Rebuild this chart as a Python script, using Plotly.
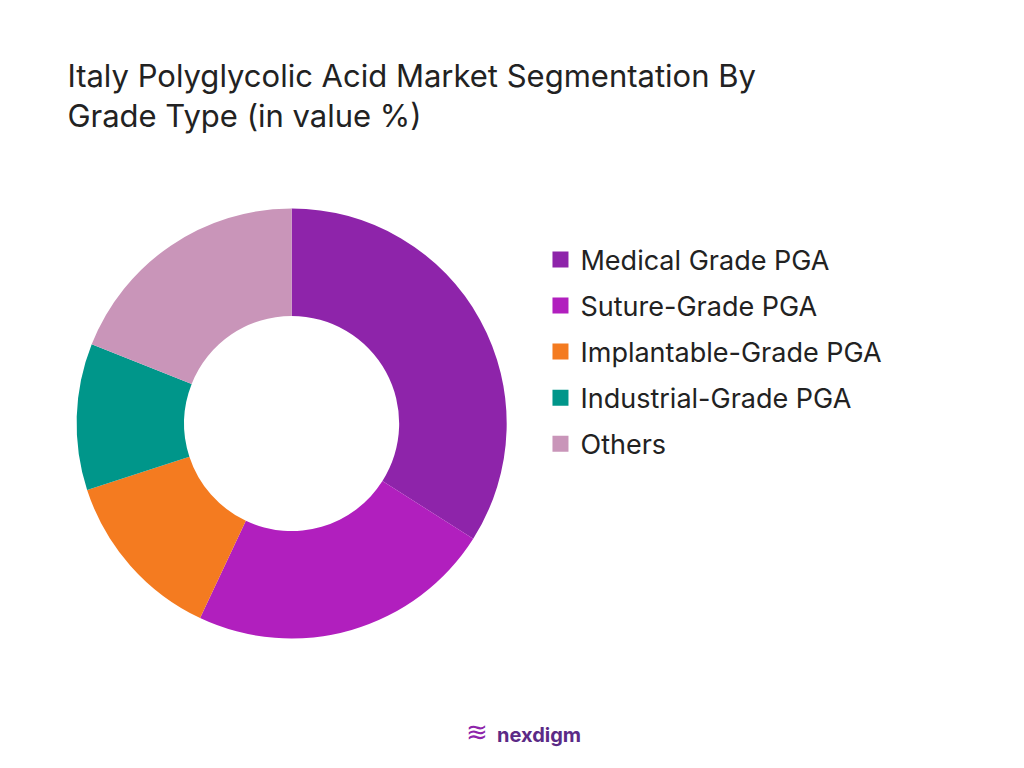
import plotly.graph_objects as go

labels = ["Medical Grade PGA", "Suture-Grade PGA", "Implantable-Grade PGA", "Industrial-Grade PGA", "Others"]
values = [34, 23, 13, 11, 19]
colors = ["#8E24AA", "#B11FBE", "#F47B20", "#00968A", "#C995B9"]

fig = go.Figure(go.Pie(
    labels=labels, values=values, hole=0.5, sort=False, direction="clockwise",
    rotation=0, marker=dict(colors=colors), textinfo="none", hoverinfo="label+percent",
    domain=dict(x=[0.042, 0.512], y=[0.179, 0.739]), showlegend=False
))
for lab, col in zip(labels, colors):
    fig.add_trace(go.Scatter(x=[None], y=[None], mode="markers", name=lab,
                             marker=dict(symbol="square", size=18, color=col),
                             legendgroup=lab, hoverinfo="skip"))
fig.update_xaxes(visible=False)
fig.update_yaxes(visible=False)
fig.update_layout(
    width=1024, height=768, paper_bgcolor="white", plot_bgcolor="rgba(0,0,0,0)",
    margin=dict(l=0, r=0, t=0, b=0),
    font=dict(family="Inter, sans-serif", color="#222"),
    title=dict(text="Italy Polyglycolic Acid Market Segmentation By<br>Grade Type (in value %)",
               x=0.058, xanchor="left", y=0.897, yanchor="top",
               font=dict(size=31, color="#222")),
    legend=dict(x=0.52, y=0.704, xanchor="left", yanchor="top",
                font=dict(size=27, color="#222"), tracegroupgap=8),
    annotations=[dict(text="<b>nexdigm</b>", x=0.5, y=0.035, xref="paper", yref="paper",
                      showarrow=False, font=dict(size=20, color="#5B2A86"), xanchor="left", xshift=-25),
                 dict(text="≋", x=0.5, y=0.035, xref="paper", yref="paper",
                      showarrow=False, font=dict(size=26, color="#8E24AA"), xanchor="right", xshift=-30)]
)
fig.write_html("out.html")
